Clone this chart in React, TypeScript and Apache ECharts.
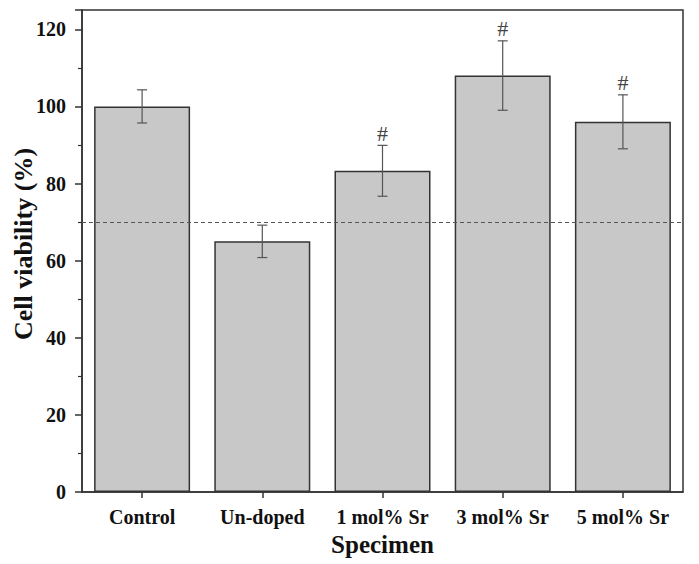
import React, { useEffect, useRef } from "react";
import * as echarts from "echarts";

const categories = ["Control", "Un-doped", "1 mol% Sr", "3 mol% Sr", "5 mol% Sr"];
const viability = [100, 65, 83.3, 108, 96];
const errors = [4.3, 4.2, 6.6, 9, 7];
const marks = ["", "", "#", "#", "#"];
const thresholdValue = 70;

const FONT = "'Liberation Serif', 'Times New Roman', serif";

export default function App() {
  const ref = useRef<HTMLDivElement>(null);
  useEffect(() => {
    if (!ref.current) return;
    const chart = echarts.init(ref.current, null, { renderer: "svg" });
    const errData = categories.map((_, i) => [i, viability[i], errors[i]]);
    chart.setOption({
      animation: false,
      backgroundColor: "#fff",
      grid: {
        left: 82,
        right: 16,
        top: 10,
        bottom: 72,
        containLabel: false,
        outerBoundsMode: "none",
        show: true,
        borderColor: "#333",
        borderWidth: 1.5,
      },
      xAxis: {
        type: "category",
        data: categories,
        name: "Specimen",
        nameLocation: "middle",
        nameGap: 40,
        nameMoveOverlap: false,
        nameTextStyle: { fontFamily: FONT, fontWeight: "bold", fontSize: 25, color: "#111" },
        axisLine: { lineStyle: { color: "#333", width: 1.5 } },
        axisTick: { show: true, alignWithLabel: true, length: 6, lineStyle: { color: "#333", width: 1.5 } },
        axisLabel: { interval: 0, hideOverlap: false, fontFamily: FONT, fontWeight: "bold", fontSize: 20, color: "#111", margin: 15 },
      },
      yAxis: {
        type: "value",
        min: 0,
        max: 125,
        interval: 20,
        name: "Cell viability (%)",
        nameLocation: "middle",
        nameGap: 46,
        nameMoveOverlap: false,
        nameTextStyle: { fontFamily: FONT, fontWeight: "bold", fontSize: 26, color: "#111", padding: [0, 0, 0, 14] },
        axisLine: { show: true, lineStyle: { color: "#333", width: 1.5 } },
        axisTick: { show: true, length: 7, lineStyle: { color: "#333", width: 1.5 } },
        minorTick: { show: true, splitNumber: 2, length: 4, lineStyle: { color: "#333", width: 1.2 } },
        splitLine: { show: false },
        axisLabel: { fontFamily: FONT, fontWeight: "bold", fontSize: 20, color: "#111", margin: 16, showMaxLabel: false },
      },
      series: [
        {
          type: "bar",
          data: viability,
          barWidth: 96,
          itemStyle: { color: "#c8c8c8", borderColor: "#333", borderWidth: 1.5 },
          markLine: {
            silent: true,
            symbol: "none",
            label: { show: false },
            lineStyle: { color: "#555", type: [4, 3], width: 1 },
            data: [{ yAxis: thresholdValue }],
          },
          z: 2,
        },
        {
          type: "custom",
          data: errData,
          z: 5,
          renderItem: (params: any, api: any) => {
            const i = api.value(0);
            const v = api.value(1);
            const e = api.value(2);
            const mark = marks[i];
            const hi = api.coord([i, v + e]);
            const lo = api.coord([i, v - e]);
            const cap = 5;
            const style = { stroke: "#555", lineWidth: 1.2 };
            const children: any[] = [
              { type: "line", shape: { x1: hi[0], y1: hi[1], x2: lo[0], y2: lo[1] }, style },
              { type: "line", shape: { x1: hi[0] - cap, y1: hi[1], x2: hi[0] + cap, y2: hi[1] }, style },
              { type: "line", shape: { x1: lo[0] - cap, y1: lo[1], x2: lo[0] + cap, y2: lo[1] }, style },
            ];
            if (mark) {
              children.push({
                type: "text",
                x: hi[0],
                y: hi[1] - 1,
                style: {
                  text: mark,
                  fill: "#444",
                  font: `22px ${FONT}`,
                  align: "center",
                  verticalAlign: "bottom",
                },
              });
            }
            return { type: "group", children };
          },
        },
      ],
    });
    return () => chart.dispose();
  }, []);
  return <div ref={ref} style={{ position: "fixed", left: 0, top: 0, width: 699, height: 564 }} />;
}
